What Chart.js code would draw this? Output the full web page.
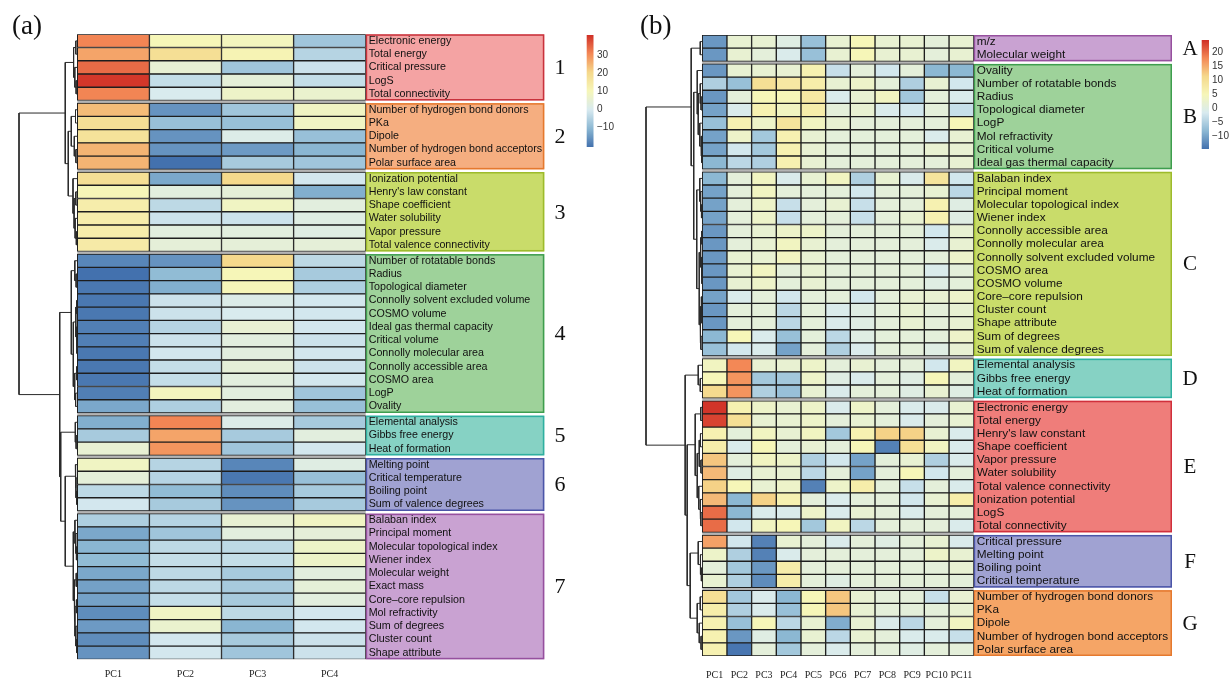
<!DOCTYPE html>
<html>
<head>
<meta charset="utf-8">
<script src="https://cdn.jsdelivr.net/npm/chart.js@4.4.1/dist/chart.umd.min.js"></script>
<style>
  html, body { margin: 0; padding: 0; background: #ffffff; }
  #wrap { position: relative; width: 1230px; height: 680px; overflow: hidden; }
  canvas { position: absolute; top: 0; }
  #ca { left: 0; }
  #cb { left: 615px; }
</style>
</head>
<body>
<div id="wrap">
  <canvas id="ca" width="615" height="680"></canvas>
  <canvas id="cb" width="615" height="680"></canvas>
</div>
<script>
// ---------- Panel (a): 4 principal components ----------
const A_COLS = ['PC1', 'PC2', 'PC3', 'PC4'];
const A_GROUP_NAMES = ['1', '2', '3', '4', '5', '6', '7'];
const A_GROUP_SIZES = [5, 5, 6, 12, 3, 4, 11];
const A_ROWS = [
  'Electronic energy', 'Total energy', 'Critical pressure', 'LogS', 'Total connectivity',
  'Number of hydrogen bond donors', 'PKa', 'Dipole', 'Number of hydrogen bond acceptors', 'Polar surface area',
  'Ionization potential', "Henry's law constant", 'Shape coefficient', 'Water solubility', 'Vapor pressure', 'Total valence connectivity',
  'Number of rotatable bonds', 'Radius', 'Topological diameter', 'Connolly solvent excluded volume', 'COSMO volume',
  'Ideal gas thermal capacity', 'Critical volume', 'Connolly molecular area', 'Connolly accessible area', 'COSMO area', 'LogP', 'Ovality',
  'Elemental analysis', 'Gibbs free energy', 'Heat of formation',
  'Melting point', 'Critical temperature', 'Boiling point', 'Sum of valence degrees',
  'Balaban index', 'Principal moment', 'Molecular topological index', 'Wiener index', 'Molecular weight', 'Exact mass',
  'Core\u2013core repulsion', 'Mol refractivity', 'Sum of degrees', 'Cluster count', 'Shape attribute'
];
const A_PC1 = [31, 27, 34, 40, 31, 24, 18, 17, 25, 25, 18, 10, 13, 13, 13, 14, -18, -21, -20, -20, -20, -19, -19, -20, -20, -20, -19, -13, -12, -7, 5, 8, 4, -4, -1, -6, -13, -11, -10, -13, -14, -14, -17, -15, -17, -16];
const A_PC2 = [10, 18, 5, -3, 0, -16, -9, -16, -16, -21, -13, 3, -4, -2, 3, 4, -16, -10, -12, -2, -2, -5, -2, -1, -3, -3, 9, -6, 31, 27, 29, -5, -5, -10, -7, -5, -8, -4, -3, -4, -4, -3, 8, 6, -1, -1];
const A_PC3 = [9, 11, -8, 4, 7, -8, -9, 1, -15, -7, 20, 4, 8, -2, 3, 4, 20, 10, 10, 1, 0, 5, 3, 3, 4, 3, 3, 3, 1, -7, -8, -18, -20, -17, -16, 5, 3, -4, -3, -7, -7, -7, -4, -11, -7, -8];
const A_PC4 = [-8, -5, -2, -3, 6, 8, 8, -9, -11, -8, -1, -12, 3, 2, 2, 4, -4, -7, -6, -1, -1, -1, -2, -1, -2, -1, -8, -9, -7, 3, -1, 2, -9, -7, -7, 8, 4, 7, 7, 3, 4, 3, -1, -1, -2, -2];
const A_RANGE = [-21, 41];
const A_LEGEND_TICKS = [30, 20, 10, 0, -10];
// row clustering: [merge height, left, right]; numbers are row indices
const A_TREE = [58,
  [12,
    [3.7, [1.5, 0, 1], [2.5, 2, [1.2, 3, 4]]],
    [9,
      [6, [1.8, 5, 6], [3, 7, [1.4, 8, 9]]],
      [4.3, 10, [3.2, [1.5, 11, 12], [2.2, 13, [1, 14, 15]]]]]],
  [17.5,
    [6, [2.5, 16, [1.2, 17, 18]],
        [4, [1.5, [0.6, 19, 20], [1.0, 21, [0.5, 22, 23]]], [2.6, [0.8, 24, 25], [1.7, 26, 27]]]],
    [16.5,
      [2, 28, [1.2, 29, 30]],
      [12,
        [2, 31, [1.4, 32, [0.8, 33, 34]]],
        [4, [2.4, 35, [1.6, 36, [0.9, 37, 38]]],
            [3.2, [1.1, 39, 40], [2.4, [0.9, 41, 42], [1.5, 43, [0.7, 44, 45]]]]]]]]
];

// ---------- Panel (b): 11 principal components ----------
const B_COLS = ['PC1', 'PC2', 'PC3', 'PC4', 'PC5', 'PC6', 'PC7', 'PC8', 'PC9', 'PC10', 'PC11'];
const B_GROUP_NAMES = ['A', 'B', 'C', 'D', 'E', 'F', 'G'];
const B_GROUP_SIZES = [2, 8, 14, 3, 10, 4, 5];
const B_ROWS = [
  'm/z', 'Molecular weight',
  'Ovality', 'Number of rotatable bonds', 'Radius', 'Topological diameter', 'LogP', 'Mol refractivity', 'Critical volume', 'Ideal gas thermal capacity',
  'Balaban index', 'Principal moment', 'Molecular topological index', 'Wiener index', 'Connolly accessible area', 'Connolly molecular area',
  'Connolly solvent excluded volume', 'COSMO area', 'COSMO volume', 'Core\u2013core repulsion', 'Cluster count', 'Shape attribute', 'Sum of degrees', 'Sum of valence degrees',
  'Elemental analysis', 'Gibbs free energy', 'Heat of formation',
  'Electronic energy', 'Total energy', "Henry's law constant", 'Shape coefficient', 'Vapor pressure', 'Water solubility',
  'Total valence connectivity', 'Ionization potential', 'LogS', 'Total connectivity',
  'Critical pressure', 'Melting point', 'Boiling point', 'Critical temperature',
  'Number of hydrogen bond donors', 'PKa', 'Dipole', 'Number of hydrogen bond acceptors', 'Polar surface area'
];
const B_PC1 = [-11, -11, -11, -5, -11, -10, -7, -10, -10, -8, -8, -10, -10, -10, -11, -11, -11, -11, -11, -10, -11, -11, -8, -7, 4, 5, 11, 24, 23, 6, 7, 13, 14, 12, 14, 20, 20, 16, 3, 1, 2, 10, 7, 6, 6, 6];
const B_PC2 = [2, 2, 2, -7, 1, -1, 6, 3, -2, -4, 1, 1, 1, 1, 1, 1, 2, 2, 2, -1, 1, 1, 5, -2, 18, 17, 17, 6, 10, 1, -1, 1, 0, 5, -8, -8, -2, -2, -5, -6, -5, -6, -5, -7, -11, -14];
const B_PC3 = [2, 1, 2, 10, 5, 6, 3, -6, -6, -5, 4, 4, 3, 3, 2, 2, 2, 4, 3, 1, 1, 1, -1, -1, 2, -6, -5, 3, 2, 4, 5, 4, 2, 2, 12, -1, 4, -13, -13, -11, -12, -1, -1, 5, 0, 1];
const B_PC4 = [0, -1, 2, 8, 5, 4, 9, 6, 6, 6, -1, 1, -3, -3, 3, 4, 4, 1, 1, -2, -4, -4, -7, -10, 2, -6, -7, 2, 2, 2, 1, 3, 2, 3, 6, -1, 5, 2, -1, 7, 7, -8, -7, -4, -8, -6];
const B_PC5 = [-7, -7, 6, 7, 8, 7, 4, 2, 2, 2, 2, 1, 1, 1, 3, 2, 2, 2, 2, 1, 1, 1, 1, 1, 3, 3, 2, 3, 3, 4, 2, -5, -4, -13, 1, 3, -6, 1, 1, 1, 1, 5, 5, 2, 2, 1];
const B_PC6 = [2, 2, -3, 2, -1, 1, 2, 1, 1, 1, 4, 1, 2, 1, 1, 1, 1, 1, 1, 1, -1, -1, -4, -5, 1, 0, -1, -1, 1, -6, 1, -2, 1, 3, -1, -1, 4, -1, 1, 1, 0, 13, 13, -9, -4, -1];
const B_PC7 = [5, 5, 1, 3, 2, 2, 1, 1, 1, 1, -5, -2, -3, -3, 1, 1, 1, 1, 1, -2, 0, 0, 0, -1, 2, -1, 1, 3, 2, 6, 5, -10, -10, 7, 1, 2, -4, 1, 1, 1, 1, 2, 2, 2, 2, 1];
const B_PC8 = [2, 2, -2, 1, 4, -1, 1, 1, 1, 1, 2, 1, 1, 1, 1, 1, 1, 1, 1, 1, 1, 1, 1, 1, 1, 1, 1, 1, 1, 12, -13, 1, 1, 1, 1, 1, 1, 0, 1, 1, 1, 1, 1, -1, 1, 1];
const B_PC9 = [2, 2, 1, -5, -6, -2, 1, 1, 1, 1, -1, 1, 1, 2, 1, 1, 1, 1, 1, 2, 2, 2, 1, 1, 1, 0, 0, -1, -1, 12, 10, 2, 5, -3, -2, -1, 1, 1, 1, 1, 1, 1, 1, -4, -1, 0];
const B_PC10 = [1, 1, -8, 2, 1, 1, 1, -1, 2, 1, 9, 2, 6, 6, -2, -1, 1, -1, 0, 2, 1, 1, 1, 0, -2, 5, 2, -1, 1, 2, 4, -5, -2, 1, 2, 1, 1, 2, 3, 1, 1, -3, 1, 1, -1, 1];
const B_PC11 = [2, 2, -8, -2, -1, -3, 5, 2, 2, 2, -2, -4, 0, 0, 2, 2, 3, 1, 1, 3, 2, 2, 3, 2, 4, 1, 0, 2, 2, -1, -1, -1, 1, -1, 7, 1, -1, -1, 2, 2, 1, 2, 2, 4, -3, 1];
const B_RANGE = [-14.5, 24.5];
const B_LEGEND_TICKS = [20, 15, 10, 5, 0, -5, -10];
const B_TREE = [56,
  [11,
    [2, 0, 1],
    [8.5,
      [5, 2, [4, [2, 3, [1.2, 4, 5]], [2.5, 6, [1.2, 7, [0.6, 8, 9]]]]],
      [5.5,
        [2.5, 10, [1.6, 11, [0.8, 12, 13]]],
        [3, [1.6, [0.5, 14, 15], [0.9, 16, [0.4, 17, 18]]], [2.2, [1.1, 19, [0.5, 20, 21]], [1.4, 22, 23]]]]]],
  [17,
    [4, 24, [2, 25, 26]],
    [15,
      [7, [1.5, 27, 28], [5, [3, [1.8, 29, 30], [1.3, 31, 32]], [3.5, 33, [2.2, 34, [1.4, 35, 36]]]]],
      [12,
        [4, 37, [1.8, 38, [0.9, 39, 40]]],
        [5, [2, 41, 42], [3, 43, [1.2, 44, 45]]]]]]
];

// ---------- shared drawing helpers ----------
const PALETTE = ['#4575B4', '#91BFDB', '#E0F3F8', '#FFFFBF', '#FEE090', '#FC8D59', '#D73027'];
const GAP = 0.2;     // space between row groups, in row units
const TONE = 0.965;  // slight print-like dimming of the ramp
const CANVAS_W = 615, CANVAS_H = 680;

function hexToRgb(h) {
  return [parseInt(h.slice(1, 3), 16), parseInt(h.slice(3, 5), 16), parseInt(h.slice(5, 7), 16)];
}
const PAL_RGB = PALETTE.map(hexToRgb);

function heatColor(v, lo, hi) {
  let t = (v - lo) / (hi - lo);
  t = Math.max(0, Math.min(1, t));
  const s = t * (PAL_RGB.length - 1);
  const i = Math.min(PAL_RGB.length - 2, Math.floor(s));
  const f = s - i;
  const a = PAL_RGB[i], b = PAL_RGB[i + 1];
  const c = a.map((x, k) => Math.round((x + (b[k] - x) * f) * TONE));
  return `rgb(${c[0]},${c[1]},${c[2]})`;
}

function fmtTick(v) {
  return v < 0 ? '\u2212' + Math.abs(v) : String(v);
}

// centre of every row and the extent of every group on the row axis
function rowLayout(sizes) {
  const centers = [], groups = [];
  let pos = 0;
  sizes.forEach((n, g) => {
    if (g > 0) pos += GAP;
    groups.push({ start: pos, end: pos + n });
    for (let k = 0; k < n; k++) centers.push(pos + k + 0.5);
    pos += n;
  });
  return { centers, groups, total: pos };
}

// dendrogram as a polyline with gaps; x is distance to the left of the heatmap
function dendroPoints(tree, centers, span) {
  const rootH = tree[0];
  const xOf = h => -h / rootH * span;
  const pts = [];
  (function walk(n) {
    if (typeof n === 'number') return { y: centers[n], h: 0 };
    const a = walk(n[1]), b = walk(n[2]);
    pts.push({ x: xOf(a.h), y: a.y }, { x: xOf(n[0]), y: a.y },
             { x: xOf(n[0]), y: b.y }, { x: xOf(b.h), y: b.y }, { x: null, y: null });
    return { y: (a.y + b.y) / 2, h: n[0] };
  })(tree);
  return pts;
}

function buildPanel(canvas, P) {
  const lay = rowLayout(P.groupSizes);
  const nCols = P.cols.length;
  const [lo, hi] = P.range;

  const cellSets = P.values.map((vals, c) => ({
    type: 'bar',
    label: P.cols[c],
    stack: 'cells',
    data: vals.map((v, i) => ({ x: [c, c + 1], y: lay.centers[i] })),
    backgroundColor: vals.map(v => heatColor(v, lo, hi)),
    borderColor: '#1e1e1e',
    borderWidth: 1,
    borderSkipped: false,
    barPercentage: 1,
    categoryPercentage: 1,
    order: 2
  }));

  const treeSet = {
    type: 'scatter',
    label: 'tree',
    data: dendroPoints(P.tree, lay.centers, P.dendroSpan),
    showLine: true,
    spanGaps: false,
    borderColor: '#2a2a2a',
    borderWidth: 1,
    pointRadius: 0,
    clip: false,
    order: 1
  };

  const decor = {
    id: 'decor' + P.panelLabel,
    beforeDraw(chart) {
      const { ctx, chartArea, scales } = chart;
      const ys = scales.y, xs = scales.x;
      ctx.save();
      // coloured group boxes behind the row labels
      lay.groups.forEach((g, k) => {
        const t = ys.getPixelForValue(g.start), b = ys.getPixelForValue(g.end);
        const x0 = xs.getPixelForValue(nCols), x1 = x0 + P.boxW;
        ctx.fillStyle = P.boxFill[k];
        ctx.fillRect(x0, t, x1 - x0, b - t);
        ctx.strokeStyle = P.boxStroke[k];
        ctx.lineWidth = 1.5;
        ctx.strokeRect(x0 + 0.75, t + 0.75, x1 - x0 - 1.5, b - t - 1.5);
      });
      // thin grey separators between groups of the heatmap
      ctx.fillStyle = '#b4b4b4';
      for (let k = 0; k < lay.groups.length - 1; k++) {
        const t = ys.getPixelForValue(lay.groups[k].end), b = ys.getPixelForValue(lay.groups[k + 1].start);
        const x0 = xs.getPixelForValue(0), x1 = xs.getPixelForValue(nCols);
        ctx.fillRect(x0, t, x1 - x0, b - t);
      }
      ctx.restore();
    },
    afterDraw(chart) {
      const { ctx, scales } = chart;
      const ys = scales.y;
      ctx.save();
      // group names
      ctx.fillStyle = '#111';
      ctx.font = `${P.groupFont}px "Liberation Serif", "DejaVu Serif", serif`;
      ctx.textAlign = 'center';
      ctx.textBaseline = 'middle';
      lay.groups.forEach((g, k) => {
        const yc = (ys.getPixelForValue(g.start) + ys.getPixelForValue(g.end)) / 2;
        ctx.fillText(P.groupNames[k], P.groupX, yc + 1);
      });
      // colour key
      const L = P.legend;
      const grad = ctx.createLinearGradient(0, L.top, 0, L.bottom);
      for (let i = 0; i <= 60; i++) {
        const f = i / 60;
        grad.addColorStop(f, heatColor(hi - f * (hi - lo), lo, hi));
      }
      ctx.fillStyle = grad;
      ctx.fillRect(L.x, L.top, L.w, L.bottom - L.top);
      ctx.fillStyle = '#333';
      ctx.font = '10px "Liberation Sans", Arial, sans-serif';
      ctx.textAlign = 'left';
      P.legendTicks.forEach(v => {
        const y = L.top + (hi - v) / (hi - lo) * (L.bottom - L.top);
        ctx.fillText(fmtTick(v), L.labelX, y);
      });
      // panel tag
      ctx.fillStyle = '#111';
      ctx.font = '27px "Liberation Serif", "DejaVu Serif", serif';
      ctx.textBaseline = 'alphabetic';
      ctx.fillText(P.panelLabel, P.panelLabelX, 34);
      ctx.restore();
    }
  };

  const chart = new Chart(canvas, {
    type: 'bar',
    data: { datasets: [...cellSets, treeSet] },
    plugins: [decor],
    options: {
      indexAxis: 'y',
      responsive: false,
      devicePixelRatio: 1,
      animation: false,
      events: [],
      layout: { padding: { left: P.padLeft, right: P.padRight, top: P.top, bottom: 0 } },
      plugins: { legend: { display: false }, tooltip: { enabled: false }, title: { display: false } },
      scales: {
        x: {
          type: 'linear',
          min: -P.dendroSpan,
          max: nCols,
          offset: false,
          stacked: false,
          grid: { display: false, drawTicks: false, offset: false },
          border: { display: false },
          afterBuildTicks: s => { s.ticks = P.cols.map((_, i) => ({ value: i + 0.5 })); },
          afterFit: s => { s.height = P.axisH; s.paddingLeft = 0; s.paddingRight = 0; },
          ticks: {
            autoSkip: false, maxRotation: 0, minRotation: 0,
            padding: P.tickPad,
            color: '#222',
            font: { family: '"Liberation Serif", "DejaVu Serif", serif', size: 10 },
            callback: (v, i) => P.cols[i]
          }
        },
        y: {
          type: 'linear',
          position: 'right',
          reverse: true,
          min: 0,
          max: lay.total,
          offset: false,
          grid: { display: false, drawTicks: false, offset: false },
          border: { display: false },
          afterBuildTicks: s => { s.ticks = lay.centers.map(v => ({ value: v })); },
          afterFit: s => { s.width = P.boxW; s.paddingTop = 0; s.paddingBottom = 0; },
          ticks: {
            autoSkip: false,
            padding: 3,
            color: '#111',
            font: { family: '"Liberation Sans", Arial, sans-serif', size: P.labelFont },
            callback: (v, i) => P.rows[i]
          }
        }
      }
    }
  });

  // settle the plot frame onto its intended edges
  const want = {
    top: P.top,
    bottom: CANVAS_H - P.axisH,
    left: P.padLeft,
    right: CANVAS_W - P.padRight - P.boxW
  };
  for (let it = 0; it < 4; it++) {
    const ys = chart.scales.y, xs = chart.scales.x;
    const eT = ys.getPixelForValue(0) - want.top;
    const eB = ys.getPixelForValue(lay.total) - want.bottom;
    const eL = xs.getPixelForValue(-P.dendroSpan) - want.left;
    const eR = xs.getPixelForValue(nCols) - want.right;
    if (Math.max(Math.abs(eT), Math.abs(eB), Math.abs(eL), Math.abs(eR)) < 0.15) break;
    const pad = chart.config.options.layout.padding;
    chart.config.options.layout.padding = {
      top: pad.top - eT,
      bottom: pad.bottom + eB,
      left: pad.left - eL,
      right: pad.right + eR
    };
    chart.update('none');
  }
  return chart;
}

buildPanel(document.getElementById('ca'), {
  cols: A_COLS, rows: A_ROWS, groupSizes: A_GROUP_SIZES, groupNames: A_GROUP_NAMES,
  values: [A_PC1, A_PC2, A_PC3, A_PC4], range: A_RANGE, legendTicks: A_LEGEND_TICKS, tree: A_TREE,
  padLeft: 19, padRight: 70.7, top: 34.3, axisH: 20.7, boxW: 178.6, dendroSpan: 0.809,
  tickPad: 9, labelFont: 10.7, groupFont: 22, groupX: 560,
  boxFill: ['#F4A3A3', '#F5AE80', '#C9DC6A', '#9ED29A', '#86D2C4', '#A0A2D2', '#C9A2D2'],
  boxStroke: ['#C8323C', '#E5792E', '#9DBB2C', '#3E9E4E', '#2FB0A0', '#4B55A8', '#96509E'],
  legend: { x: 586.7, w: 6.8, top: 35, bottom: 147, labelX: 597 },
  panelLabel: '(a)', panelLabelX: 12
});

buildPanel(document.getElementById('cb'), {
  cols: B_COLS, rows: B_ROWS, groupSizes: B_GROUP_SIZES, groupNames: B_GROUP_NAMES,
  values: [B_PC1, B_PC2, B_PC3, B_PC4, B_PC5, B_PC6, B_PC7, B_PC8, B_PC9, B_PC10, B_PC11],
  range: B_RANGE, legendTicks: B_LEGEND_TICKS, tree: B_TREE,
  padLeft: 31, padRight: 58, top: 35, axisH: 24, boxW: 198.3, dendroSpan: 2.28,
  tickPad: 13, labelFont: 11.8, groupFont: 21, groupX: 575,
  boxFill: ['#C9A2D2', '#9ED29A', '#C9DC6A', '#86D2C4', '#EF7D7A', '#A0A2D2', '#F5A566'],
  boxStroke: ['#96509E', '#3E9E4E', '#9DBB2C', '#2FB0A0', '#D0303C', '#4B55A8', '#E5792E'],
  legend: { x: 586.7, w: 7.3, top: 40, bottom: 149, labelX: 597 },
  panelLabel: '(b)', panelLabelX: 25
});
</script>
</body>
</html>
